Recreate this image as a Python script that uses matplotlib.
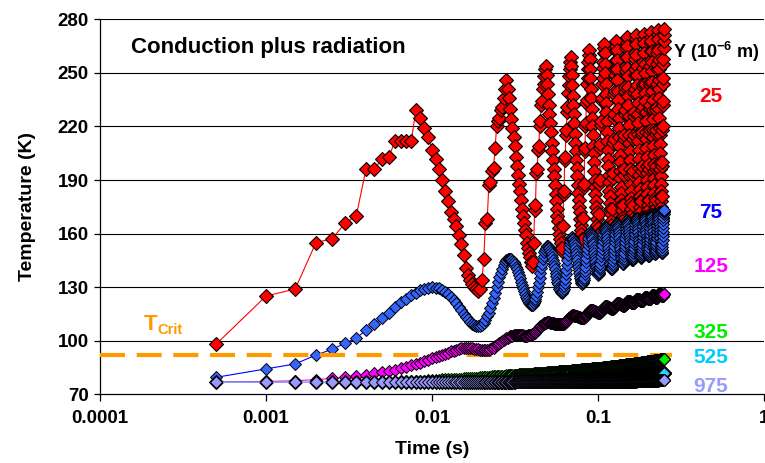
import numpy as np
import matplotlib
matplotlib.use("Agg")
import matplotlib.pyplot as plt
from matplotlib.ticker import FixedLocator, FixedFormatter, NullLocator

# ---------------------------------------------------------------------------
# Temperature histories (K) at several depths Y, sampled every TIME_STEP s
# ---------------------------------------------------------------------------
TIME_STEP = 0.0005

temp_y25 = [
    98, 125, 129, 155, 157, 166, 170, 196, 196, 202, 203, 212, 212, 212, 212, 229,
    225, 219, 214, 207, 202, 196, 190, 184, 178, 172, 168, 164, 159, 154, 148, 141, 137, 134, 132, 130, 129, 128,
    129, 134, 146, 166, 168, 187, 189, 195, 197, 208, 220, 223, 225, 229, 231, 236, 241, 246,
    241, 236, 230, 224, 219, 214, 209, 203, 198, 193, 188, 184, 179, 174, 170, 166, 162, 159, 155, 152, 149, 147, 144, 142,
    144, 155, 173, 176, 194, 196, 207, 209, 220, 223, 232, 234, 241, 244, 248, 252, 254,
    249, 244, 238, 232, 227, 222, 217, 211, 206, 201, 196, 192, 187, 182, 178, 174, 170, 167, 163, 160, 157, 155, 152, 150,
    152, 164, 182, 184, 201, 203, 215, 218, 228, 231, 239, 243, 248, 252, 256, 259,
    254, 249, 243, 237, 232, 227, 222, 216, 211, 206, 201, 197, 192, 187, 183, 179, 175, 172, 168, 165, 162, 160, 157, 155,
    157, 169, 186, 188, 206, 208, 220, 222, 233, 235, 244, 247, 252, 256, 260, 263,
    258, 252, 247, 241, 236, 230, 225, 220, 215, 209, 205, 200, 195, 190, 186, 182, 178, 175, 172, 168, 165, 163, 160, 158,
    160, 171, 188, 190, 208, 210, 221, 223, 234, 236, 244, 247, 253, 256, 261, 264, 266,
    261, 255, 250, 244, 238, 233, 228, 223, 217, 212, 207, 202, 198, 193, 189, 184, 181, 177, 174, 171, 167, 165, 162, 160,
    162, 174, 191, 194, 211, 213, 225, 227, 238, 240, 249, 252, 257, 262, 265, 268,
    263, 257, 252, 246, 240, 235, 230, 225, 219, 214, 209, 204, 200, 195, 191, 186, 183, 179, 176, 173, 169, 167, 164, 162,
    164, 176, 193, 196, 213, 215, 227, 229, 240, 242, 251, 254, 259, 264, 267, 270,
    265, 259, 253, 248, 242, 237, 232, 226, 221, 215, 211, 206, 201, 196, 192, 188, 184, 180, 177, 174, 171, 168, 165, 163,
    165, 176, 193, 195, 213, 215, 226, 228, 239, 241, 249, 252, 258, 261, 266, 269, 271,
    266, 260, 254, 249, 243, 238, 233, 227, 222, 216, 212, 207, 202, 197, 193, 189, 185, 181, 178, 175, 172, 169, 166, 164,
    166, 178, 195, 198, 215, 217, 229, 231, 242, 244, 253, 256, 261, 266, 269, 272,
    267, 261, 255, 250, 244, 239, 234, 228, 223, 217, 213, 208, 203, 198, 194, 190, 186, 182, 179, 176, 173, 170, 167, 165,
    167, 179, 196, 199, 216, 218, 230, 232, 243, 245, 254, 257, 262, 267, 270, 273,
    268, 262, 256, 251, 245, 240, 235, 229, 224, 218, 214, 209, 204, 199, 195, 191, 187, 183, 180, 177, 174, 171, 168, 166,
    168, 179, 196, 198, 216, 218, 229, 231, 242, 244, 252, 255, 261, 264, 269, 272, 274,
    269, 263, 257, 252, 246, 241, 236, 230, 225, 219, 215, 210, 205, 200, 196, 192, 188, 184, 181, 178, 175, 172, 169, 167,
    169, 181, 198, 200, 218, 220, 232, 234, 244, 247, 255, 258, 264, 268, 271, 274.5,
]

temp_y75 = [
    79.5, 84.2, 87.0, 92.0, 95.2, 98.6, 101.4, 106.0, 109.4, 112.6, 115.4, 118.8, 121.5, 123.5, 125.5, 127.0, 128.3, 129.2, 129.8, 130.0,
    129.8, 129.3, 128.5, 127.4, 126.1, 124.5, 122.8, 120.9, 119.0, 117.1, 115.2, 113.5, 111.9, 110.6, 109.5, 108.7, 108.2, 108.0,
    108.2, 108.9, 110.1, 111.6, 113.6, 115.8, 118.4, 121.1, 124.0, 127.0, 130.0, 132.9, 135.6, 138.2, 140.4, 142.4, 143.9, 145.1, 145.8, 146.0,
    145.9, 145.5, 144.8, 143.9, 142.8, 141.5, 140.0, 138.4, 136.7, 134.9, 133.0, 131.2, 129.3, 127.6, 126.0, 124.5, 123.2, 122.1, 121.2, 120.5, 120.1, 120.0,
    120.2, 120.9, 122.0, 123.5, 125.3, 127.5, 129.9, 132.5, 135.1, 137.9, 140.6, 143.1, 145.5, 147.7, 149.5, 151.0, 152.1, 152.8, 153.0,
    152.9, 152.5, 151.8, 150.9, 149.8, 148.5, 147.0, 145.4, 143.7, 141.9, 140.0, 138.2, 136.3, 134.6, 133.0, 131.5, 130.2, 129.1, 128.2, 127.5, 127.1, 127.0,
    127.2, 127.9, 129.1, 130.6, 132.5, 134.8, 137.2, 139.8, 142.5, 145.2, 147.8, 150.3, 152.5, 154.4, 155.9, 157.1, 157.8, 158.0,
    157.9, 157.5, 156.8, 155.9, 154.8, 153.5, 152.0, 150.4, 148.7, 146.9, 145.0, 143.2, 141.3, 139.6, 138.0, 136.5, 135.2, 134.1, 133.2, 132.5, 132.1, 132.0,
    132.2, 132.9, 133.9, 135.4, 137.2, 139.3, 141.5, 144.0, 146.5, 149.0, 151.5, 153.8, 155.8, 157.6, 159.1, 160.1, 160.8, 161.0,
    160.9, 160.5, 159.9, 159.1, 158.1, 156.9, 155.5, 154.0, 152.4, 150.7, 149.0, 147.3, 145.6, 144.0, 142.5, 141.1, 139.9, 138.9, 138.1, 137.5, 137.1, 137.0,
    137.2, 137.7, 138.6, 139.9, 141.4, 143.1, 145.1, 147.2, 149.4, 151.6, 153.8, 155.9, 157.9, 159.6, 161.2, 162.4, 163.3, 163.8, 164.0,
    163.9, 163.5, 162.9, 162.1, 161.1, 159.9, 158.5, 157.0, 155.4, 153.7, 152.0, 150.3, 148.6, 147.0, 145.5, 144.1, 142.9, 141.9, 141.1, 140.5, 140.1, 140.0,
    140.2, 140.8, 141.7, 143.0, 144.6, 146.5, 148.6, 150.7, 153.0, 155.3, 157.5, 159.5, 161.4, 163.0, 164.3, 165.2, 165.8, 166.0,
    165.9, 165.5, 165.0, 164.2, 163.2, 162.0, 160.7, 159.3, 157.7, 156.1, 154.5, 152.9, 151.3, 149.7, 148.3, 147.0, 145.8, 144.8, 144.0, 143.5, 143.1, 143.0,
    143.2, 143.7, 144.6, 145.9, 147.4, 149.1, 151.1, 153.1, 155.3, 157.4, 159.4, 161.4, 163.1, 164.6, 165.9, 166.8, 167.3, 167.5,
    167.4, 167.0, 166.5, 165.7, 164.8, 163.6, 162.3, 160.9, 159.4, 157.9, 156.3, 154.7, 153.1, 151.6, 150.2, 148.9, 147.8, 146.8, 146.0, 145.5, 145.1, 145.0,
    145.2, 145.7, 146.5, 147.5, 148.9, 150.4, 152.2, 154.1, 156.0, 158.0, 160.0, 161.8, 163.6, 165.1, 166.5, 167.6, 168.4, 168.8, 169.0,
    168.9, 168.5, 168.0, 167.2, 166.3, 165.1, 163.8, 162.4, 160.9, 159.4, 157.8, 156.2, 154.6, 153.1, 151.7, 150.4, 149.3, 148.3, 147.5, 147.0, 146.6, 146.5,
    146.7, 147.2, 148.1, 149.3, 150.7, 152.4, 154.2, 156.2, 158.3, 160.3, 162.3, 164.1, 165.8, 167.3, 168.4, 169.3, 169.8, 170.0,
    169.9, 169.5, 169.0, 168.2, 167.3, 166.1, 164.8, 163.4, 161.9, 160.4, 158.8, 157.2, 155.6, 154.1, 152.7, 151.4, 150.3, 149.3, 148.5, 148.0, 147.6, 147.5,
    147.7, 148.2, 149.1, 150.3, 151.7, 153.4, 155.2, 157.2, 159.3, 161.3, 163.3, 165.1, 166.8, 168.3, 169.4, 170.3, 170.8, 171.0,
    170.9, 170.5, 170.0, 169.2, 168.3, 167.1, 165.8, 164.4, 162.9, 161.4, 159.8, 158.2, 156.6, 155.1, 153.7, 152.4, 151.3, 150.3, 149.5, 149.0, 148.6, 148.5,
    148.7, 149.1, 149.9, 151.0, 152.3, 153.8, 155.5, 157.4, 159.3, 161.2, 163.1, 165.0, 166.7, 168.2, 169.5, 170.6, 171.4, 171.8, 172.0,
    171.9, 171.5, 171.0, 170.2, 169.2, 168.0, 166.7, 165.3, 163.7, 162.1, 160.5, 158.9, 157.3, 155.7, 154.3, 153.0, 151.8, 150.8, 150.0, 149.5, 149.1, 149.0,
    149.2, 149.9, 151.0, 152.5, 154.3, 156.4, 158.7, 161.0, 163.3, 165.6, 167.7, 169.5, 171.0, 172.1, 172.8, 173.0,
]

temp_y125 = [
    77.0, 77.2, 77.6, 78.2, 78.9, 79.6, 80.3, 81.0, 81.7, 82.4,
    83.1, 83.8, 84.6, 85.4, 86.2, 87.0, 87.8, 88.6, 89.4, 90.1,
    90.8, 91.5, 92.2, 92.8, 93.4, 94.0, 94.5, 95.0, 95.4, 95.7,
    95.9, 96.0, 96.0, 95.9, 95.7, 95.5, 95.3, 95.1, 94.9, 94.8,
    94.7, 94.7, 94.8, 95.0, 95.3, 95.7, 96.2, 96.8, 97.4, 98.0,
    98.6, 99.2, 99.8, 100.3, 100.8, 101.3, 101.7, 102.1, 102.4, 102.7,
    102.9, 103.1, 103.2, 103.3, 103.3, 103.3, 103.2, 103.2, 103.1, 103.0,
    103.0, 102.9, 102.9, 102.9, 102.9, 103.0, 103.1, 103.2, 103.4, 103.6,
    103.9, 104.2, 104.6, 105.0, 105.5, 106.0, 106.5, 107.0, 107.5, 108.0,
    108.4, 108.8, 109.2, 109.5, 109.8, 110.0, 110.2, 110.3, 110.4, 110.4,
    110.4, 110.3, 110.2, 110.1, 110.0, 109.9, 109.8, 109.7, 109.6, 109.5,
    109.4, 109.4, 109.3, 109.3, 109.3, 109.3, 109.3, 109.3, 109.3, 109.3, 109.3,
    109.3, 109.4, 109.6, 109.8, 110.0, 110.3, 110.6, 111.0, 111.4, 111.8, 112.1, 112.5, 112.9, 113.2, 113.5, 113.7, 113.9, 114.1, 114.2, 114.2,
    114.2, 114.2, 114.1, 114.1, 114.0, 113.9, 113.8, 113.7, 113.6, 113.5, 113.4, 113.3, 113.2, 113.1, 113.0, 112.9, 112.8, 112.8, 112.7, 112.7, 112.7,
    112.7, 112.8, 113.0, 113.1, 113.4, 113.6, 113.9, 114.3, 114.6, 115.0, 115.3, 115.7, 116.0, 116.3, 116.5, 116.8, 117.0, 117.1, 117.2, 117.2,
    117.2, 117.2, 117.1, 117.1, 117.0, 116.9, 116.8, 116.7, 116.6, 116.5, 116.4, 116.3, 116.2, 116.1, 116.0, 115.9, 115.8, 115.8, 115.7, 115.7, 115.7,
    115.7, 115.8, 115.9, 116.1, 116.2, 116.5, 116.7, 117.0, 117.3, 117.6, 117.8, 118.1, 118.4, 118.6, 118.9, 119.1, 119.2, 119.3, 119.4, 119.4,
    119.4, 119.4, 119.3, 119.3, 119.2, 119.1, 119.0, 118.9, 118.8, 118.7, 118.6, 118.5, 118.4, 118.3, 118.2, 118.1, 118.0, 118.0, 117.9, 117.9, 117.9,
    117.9, 118.0, 118.1, 118.2, 118.4, 118.6, 118.8, 119.0, 119.3, 119.5, 119.8, 120.0, 120.2, 120.4, 120.6, 120.8, 120.9, 121.0, 121.1, 121.1,
    121.1, 121.1, 121.0, 121.0, 120.9, 120.8, 120.7, 120.6, 120.5, 120.4, 120.3, 120.2, 120.1, 120.0, 119.9, 119.8, 119.7, 119.7, 119.6, 119.6, 119.6,
    119.6, 119.7, 119.8, 119.9, 120.0, 120.2, 120.4, 120.6, 120.8, 121.0, 121.2, 121.4, 121.6, 121.8, 122.0, 122.1, 122.3, 122.3, 122.4, 122.4,
    122.4, 122.4, 122.3, 122.3, 122.2, 122.1, 122.0, 121.9, 121.8, 121.7, 121.6, 121.5, 121.4, 121.3, 121.2, 121.1, 121.0, 121.0, 120.9, 120.9, 120.9,
    120.9, 121.0, 121.1, 121.2, 121.3, 121.5, 121.6, 121.8, 122.0, 122.3, 122.5, 122.7, 122.9, 123.0, 123.2, 123.3, 123.5, 123.5, 123.6, 123.6,
    123.6, 123.6, 123.5, 123.5, 123.4, 123.3, 123.2, 123.1, 123.0, 122.9, 122.8, 122.7, 122.6, 122.5, 122.4, 122.3, 122.2, 122.2, 122.1, 122.1, 122.1,
    122.1, 122.2, 122.2, 122.3, 122.5, 122.6, 122.8, 123.0, 123.2, 123.4, 123.6, 123.7, 123.9, 124.1, 124.2, 124.4, 124.5, 124.5, 124.6, 124.6,
    124.6, 124.6, 124.5, 124.5, 124.4, 124.3, 124.2, 124.1, 124.0, 123.9, 123.8, 123.7, 123.6, 123.5, 123.4, 123.3, 123.2, 123.2, 123.1, 123.1, 123.1,
    123.1, 123.2, 123.2, 123.3, 123.5, 123.6, 123.8, 124.0, 124.2, 124.4, 124.6, 124.7, 124.9, 125.1, 125.2, 125.4, 125.5, 125.5, 125.6, 125.6,
    125.6, 125.6, 125.5, 125.5, 125.4, 125.3, 125.2, 125.1, 125.0, 124.9, 124.8, 124.7, 124.6, 124.5, 124.4, 124.3, 124.2, 124.2, 124.1, 124.1, 124.1,
    124.1, 124.2, 124.2, 124.3, 124.5, 124.6, 124.8, 124.9, 125.1, 125.3, 125.5, 125.7, 125.8, 126.0, 126.2, 126.3, 126.4, 126.4, 126.5, 126.5,
    126.5, 126.5, 126.4, 126.4, 126.3, 126.2, 126.1, 126.0, 125.9, 125.8, 125.7, 125.6, 125.5, 125.4, 125.3, 125.2, 125.1, 125.1, 125.0, 125.0, 125.0,
    125.0, 125.1, 125.2, 125.4, 125.5, 125.7, 125.9, 126.0, 126.1, 126.2,
]

temp_y325 = [
    76.7, 76.7, 76.7, 76.7, 76.7, 76.7, 76.7, 76.8, 76.8, 76.9, 77.0, 77.1, 77.2, 77.3, 77.4, 77.5, 77.6, 77.7, 77.9, 78.0,
    78.1, 78.2, 78.3, 78.3, 78.4, 78.5, 78.6, 78.6, 78.7, 78.8, 78.9, 79.0, 79.0, 79.1, 79.2, 79.3, 79.4, 79.4, 79.5, 79.6,
    79.7, 79.7, 79.8, 79.8, 79.9, 80.0, 80.0, 80.1, 80.1, 80.2, 80.3, 80.3, 80.4, 80.4, 80.5, 80.6, 80.6, 80.7, 80.7, 80.8,
    80.8, 80.9, 80.9, 81.0, 81.0, 81.0, 81.1, 81.1, 81.2, 81.2, 81.2, 81.3, 81.3, 81.4, 81.4, 81.4, 81.5, 81.5, 81.6, 81.6,
    81.6, 81.7, 81.7, 81.8, 81.8, 81.8, 81.9, 81.9, 81.9, 82.0, 82.0, 82.0, 82.1, 82.1, 82.1, 82.2, 82.2, 82.2, 82.3, 82.3,
    82.3, 82.4, 82.4, 82.4, 82.5, 82.5, 82.5, 82.5, 82.6, 82.6, 82.6, 82.7, 82.7, 82.7, 82.7, 82.8, 82.8, 82.8, 82.9, 82.9,
    82.9, 82.9, 83.0, 83.0, 83.0, 83.0, 83.1, 83.1, 83.1, 83.1, 83.2, 83.2, 83.2, 83.2, 83.3, 83.3, 83.3, 83.3, 83.4, 83.4,
    83.4, 83.4, 83.5, 83.5, 83.5, 83.5, 83.6, 83.6, 83.6, 83.6, 83.7, 83.7, 83.7, 83.7, 83.8, 83.8, 83.8, 83.8, 83.9, 83.9,
    83.9, 83.9, 84.0, 84.0, 84.0, 84.0, 84.1, 84.1, 84.1, 84.1, 84.2, 84.2, 84.2, 84.2, 84.3, 84.3, 84.3, 84.3, 84.4, 84.4,
    84.4, 84.4, 84.4, 84.5, 84.5, 84.5, 84.5, 84.5, 84.6, 84.6, 84.6, 84.6, 84.6, 84.7, 84.7, 84.7, 84.7, 84.7, 84.8, 84.8,
    84.8, 84.8, 84.8, 84.9, 84.9, 84.9, 84.9, 84.9, 85.0, 85.0, 85.0, 85.0, 85.0, 85.1, 85.1, 85.1, 85.1, 85.1, 85.2, 85.2,
    85.2, 85.2, 85.2, 85.3, 85.3, 85.3, 85.3, 85.3, 85.4, 85.4, 85.4, 85.4, 85.4, 85.5, 85.5, 85.5, 85.5, 85.5, 85.6, 85.6,
    85.6, 85.6, 85.6, 85.7, 85.7, 85.7, 85.7, 85.7, 85.8, 85.8, 85.8, 85.8, 85.8, 85.9, 85.9, 85.9, 85.9, 85.9, 86.0, 86.0,
    86.0, 86.0, 86.0, 86.1, 86.1, 86.1, 86.1, 86.1, 86.2, 86.2, 86.2, 86.2, 86.2, 86.3, 86.3, 86.3, 86.3, 86.3, 86.4, 86.4,
    86.4, 86.4, 86.4, 86.5, 86.5, 86.5, 86.5, 86.5, 86.6, 86.6, 86.6, 86.6, 86.6, 86.7, 86.7, 86.7, 86.7, 86.7, 86.8, 86.8,
    86.8, 86.8, 86.8, 86.8, 86.9, 86.9, 86.9, 86.9, 86.9, 86.9, 87.0, 87.0, 87.0, 87.0, 87.0, 87.0, 87.1, 87.1, 87.1, 87.1,
    87.1, 87.1, 87.1, 87.1, 87.2, 87.2, 87.2, 87.2, 87.2, 87.2, 87.3, 87.3, 87.3, 87.3, 87.3, 87.3, 87.4, 87.4, 87.4, 87.4,
    87.4, 87.4, 87.4, 87.5, 87.5, 87.5, 87.5, 87.5, 87.6, 87.6, 87.6, 87.6, 87.6, 87.7, 87.7, 87.7, 87.7, 87.7, 87.8, 87.8,
    87.8, 87.8, 87.8, 87.8, 87.9, 87.9, 87.9, 87.9, 87.9, 87.9, 88.0, 88.0, 88.0, 88.0, 88.0, 88.0, 88.1, 88.1, 88.1, 88.1,
    88.1, 88.1, 88.1, 88.1, 88.2, 88.2, 88.2, 88.2, 88.2, 88.2, 88.3, 88.3, 88.3, 88.3, 88.3, 88.3, 88.4, 88.4, 88.4, 88.4,
    88.4, 88.4, 88.4, 88.4, 88.5, 88.5, 88.5, 88.5, 88.5, 88.5, 88.6, 88.6, 88.6, 88.6, 88.6, 88.6, 88.7, 88.7, 88.7, 88.7,
    88.7, 88.7, 88.7, 88.7, 88.8, 88.8, 88.8, 88.8, 88.8, 88.8, 88.9, 88.9, 88.9, 88.9, 88.9, 88.9, 89.0, 89.0, 89.0, 89.0,
    89.0, 89.0, 89.0, 89.0, 89.0, 89.1, 89.1, 89.1, 89.1, 89.1, 89.1, 89.1, 89.1, 89.2, 89.2, 89.2, 89.2, 89.2, 89.2, 89.2,
    89.2, 89.2, 89.3, 89.3, 89.3, 89.3, 89.3, 89.3, 89.4, 89.4, 89.4, 89.4, 89.4, 89.4, 89.4, 89.5, 89.5, 89.5, 89.5, 89.5,
    89.5, 89.5, 89.6, 89.6, 89.6, 89.6, 89.6, 89.6, 89.7, 89.7, 89.7, 89.7, 89.7, 89.7, 89.7, 89.8, 89.8, 89.8, 89.8, 89.8,
]

temp_y525 = [
    76.7, 76.7, 76.7, 76.7, 76.7, 76.7, 76.7, 76.7, 76.7, 76.7, 76.7, 76.7, 76.7, 76.7, 76.7, 76.7, 76.7, 76.7, 76.7, 76.7,
    76.7, 76.7, 76.7, 76.7, 76.7, 76.7, 76.7, 76.7, 76.7, 76.7, 76.7, 76.7, 76.7, 76.7, 76.8, 76.8, 76.8, 76.8, 76.8, 76.8,
    76.8, 76.8, 76.8, 76.9, 76.9, 76.9, 76.9, 76.9, 76.9, 77.0, 77.0, 77.0, 77.0, 77.0, 77.0, 77.0, 77.1, 77.1, 77.1, 77.1,
    77.1, 77.1, 77.1, 77.2, 77.2, 77.2, 77.2, 77.2, 77.2, 77.3, 77.3, 77.3, 77.3, 77.3, 77.3, 77.3, 77.4, 77.4, 77.4, 77.4,
    77.4, 77.4, 77.4, 77.5, 77.5, 77.5, 77.5, 77.5, 77.5, 77.6, 77.6, 77.6, 77.6, 77.6, 77.6, 77.6, 77.7, 77.7, 77.7, 77.7,
    77.7, 77.7, 77.7, 77.8, 77.8, 77.8, 77.8, 77.8, 77.8, 77.9, 77.9, 77.9, 77.9, 77.9, 77.9, 77.9, 78.0, 78.0, 78.0, 78.0,
    78.0, 78.0, 78.0, 78.1, 78.1, 78.1, 78.1, 78.1, 78.1, 78.2, 78.2, 78.2, 78.2, 78.2, 78.2, 78.2, 78.3, 78.3, 78.3, 78.3,
    78.3, 78.3, 78.3, 78.3, 78.3, 78.4, 78.4, 78.4, 78.4, 78.4, 78.4, 78.4, 78.4, 78.4, 78.5, 78.5, 78.5, 78.5, 78.5, 78.5,
    78.5, 78.5, 78.5, 78.5, 78.5, 78.6, 78.6, 78.6, 78.6, 78.6, 78.6, 78.6, 78.6, 78.6, 78.7, 78.7, 78.7, 78.7, 78.7, 78.7,
    78.7, 78.7, 78.7, 78.7, 78.7, 78.8, 78.8, 78.8, 78.8, 78.8, 78.8, 78.8, 78.8, 78.8, 78.9, 78.9, 78.9, 78.9, 78.9, 78.9,
    78.9, 78.9, 78.9, 78.9, 78.9, 79.0, 79.0, 79.0, 79.0, 79.0, 79.0, 79.0, 79.0, 79.0, 79.1, 79.1, 79.1, 79.1, 79.1, 79.1,
    79.1, 79.1, 79.1, 79.1, 79.1, 79.2, 79.2, 79.2, 79.2, 79.2, 79.2, 79.2, 79.2, 79.2, 79.3, 79.3, 79.3, 79.3, 79.3, 79.3,
    79.3, 79.3, 79.3, 79.3, 79.3, 79.4, 79.4, 79.4, 79.4, 79.4, 79.4, 79.4, 79.4, 79.4, 79.5, 79.5, 79.5, 79.5, 79.5, 79.5,
    79.5, 79.5, 79.5, 79.5, 79.5, 79.6, 79.6, 79.6, 79.6, 79.6, 79.6, 79.6, 79.6, 79.6, 79.7, 79.7, 79.7, 79.7, 79.7, 79.7,
    79.7, 79.7, 79.7, 79.7, 79.7, 79.8, 79.8, 79.8, 79.8, 79.8, 79.8, 79.8, 79.8, 79.8, 79.9, 79.9, 79.9, 79.9, 79.9, 79.9,
    79.9, 79.9, 79.9, 79.9, 79.9, 80.0, 80.0, 80.0, 80.0, 80.0, 80.0, 80.0, 80.0, 80.0, 80.1, 80.1, 80.1, 80.1, 80.1, 80.1,
    80.1, 80.1, 80.1, 80.1, 80.1, 80.2, 80.2, 80.2, 80.2, 80.2, 80.2, 80.2, 80.2, 80.2, 80.3, 80.3, 80.3, 80.3, 80.3, 80.3,
    80.3, 80.3, 80.3, 80.3, 80.3, 80.4, 80.4, 80.4, 80.4, 80.4, 80.4, 80.4, 80.4, 80.4, 80.5, 80.5, 80.5, 80.5, 80.5, 80.5,
    80.5, 80.5, 80.5, 80.5, 80.5, 80.6, 80.6, 80.6, 80.6, 80.6, 80.6, 80.6, 80.6, 80.6, 80.7, 80.7, 80.7, 80.7, 80.7, 80.7,
    80.7, 80.7, 80.7, 80.7, 80.7, 80.8, 80.8, 80.8, 80.8, 80.8, 80.8, 80.8, 80.8, 80.8, 80.9, 80.9, 80.9, 80.9, 80.9, 80.9,
    80.9, 80.9, 80.9, 80.9, 80.9, 81.0, 81.0, 81.0, 81.0, 81.0, 81.0, 81.0, 81.0, 81.0, 81.1, 81.1, 81.1, 81.1, 81.1, 81.1,
    81.1, 81.1, 81.1, 81.1, 81.1, 81.2, 81.2, 81.2, 81.2, 81.2, 81.2, 81.2, 81.2, 81.2, 81.3, 81.3, 81.3, 81.3, 81.3, 81.3,
    81.3, 81.3, 81.3, 81.3, 81.3, 81.4, 81.4, 81.4, 81.4, 81.4, 81.4, 81.4, 81.4, 81.4, 81.5, 81.5, 81.5, 81.5, 81.5, 81.5,
    81.5, 81.5, 81.5, 81.5, 81.5, 81.5, 81.5, 81.5, 81.6, 81.6, 81.6, 81.6, 81.6, 81.6, 81.6, 81.6, 81.6, 81.6, 81.6, 81.6,
    81.6, 81.6, 81.6, 81.6, 81.6, 81.7, 81.7, 81.7, 81.7, 81.7, 81.7, 81.7, 81.7, 81.7, 81.8, 81.8, 81.8, 81.8, 81.8, 81.8,
]

temp_y975 = [
    76.7, 76.7, 76.7, 76.7, 76.7, 76.7, 76.7, 76.7, 76.7, 76.7, 76.7, 76.7, 76.7, 76.7, 76.7, 76.7, 76.7, 76.7, 76.7, 76.7,
    76.7, 76.7, 76.7, 76.7, 76.7, 76.7, 76.7, 76.7, 76.7, 76.7, 76.7, 76.7, 76.7, 76.7, 76.7, 76.7, 76.7, 76.7, 76.7, 76.7,
    76.7, 76.7, 76.7, 76.7, 76.7, 76.7, 76.7, 76.7, 76.7, 76.7, 76.7, 76.7, 76.7, 76.7, 76.7, 76.7, 76.7, 76.7, 76.7, 76.7,
    76.7, 76.7, 76.7, 76.7, 76.7, 76.7, 76.7, 76.7, 76.7, 76.7, 76.7, 76.7, 76.7, 76.7, 76.7, 76.7, 76.7, 76.7, 76.7, 76.7,
    76.7, 76.7, 76.7, 76.7, 76.7, 76.7, 76.7, 76.7, 76.7, 76.7, 76.7, 76.7, 76.7, 76.7, 76.7, 76.7, 76.7, 76.7, 76.7, 76.7,
    76.7, 76.7, 76.7, 76.7, 76.7, 76.7, 76.7, 76.7, 76.7, 76.7, 76.7, 76.7, 76.7, 76.7, 76.7, 76.7, 76.7, 76.7, 76.7, 76.7,
    76.7, 76.7, 76.7, 76.7, 76.7, 76.7, 76.7, 76.7, 76.7, 76.7, 76.7, 76.7, 76.7, 76.7, 76.7, 76.7, 76.7, 76.7, 76.7, 76.7,
    76.7, 76.7, 76.7, 76.7, 76.7, 76.7, 76.7, 76.7, 76.7, 76.7, 76.7, 76.7, 76.7, 76.7, 76.7, 76.7, 76.7, 76.7, 76.7, 76.7,
    76.7, 76.7, 76.7, 76.7, 76.7, 76.7, 76.7, 76.7, 76.7, 76.7, 76.7, 76.7, 76.7, 76.7, 76.7, 76.7, 76.7, 76.7, 76.7, 76.7,
    76.7, 76.7, 76.7, 76.7, 76.7, 76.7, 76.7, 76.7, 76.7, 76.7, 76.7, 76.7, 76.7, 76.7, 76.7, 76.7, 76.7, 76.7, 76.7, 76.7,
    76.7, 76.7, 76.7, 76.7, 76.7, 76.7, 76.7, 76.7, 76.7, 76.7, 76.7, 76.7, 76.7, 76.7, 76.7, 76.7, 76.7, 76.7, 76.7, 76.7,
    76.7, 76.7, 76.7, 76.7, 76.7, 76.7, 76.7, 76.7, 76.7, 76.7, 76.7, 76.7, 76.7, 76.7, 76.7, 76.7, 76.7, 76.7, 76.7, 76.7,
    76.8, 76.8, 76.8, 76.8, 76.8, 76.8, 76.8, 76.8, 76.8, 76.8, 76.8, 76.8, 76.8, 76.8, 76.8, 76.8, 76.8, 76.8, 76.8, 76.8,
    76.8, 76.8, 76.8, 76.8, 76.8, 76.8, 76.8, 76.8, 76.8, 76.8, 76.8, 76.8, 76.8, 76.8, 76.8, 76.8, 76.8, 76.8, 76.8, 76.8,
    76.9, 76.9, 76.9, 76.9, 76.9, 76.9, 76.9, 76.9, 76.9, 76.9, 76.9, 76.9, 76.9, 76.9, 76.9, 76.9, 76.9, 76.9, 76.9, 76.9,
    77.0, 77.0, 77.0, 77.0, 77.0, 77.0, 77.0, 77.0, 77.0, 77.0, 77.0, 77.0, 77.0, 77.0, 77.0, 77.0, 77.0, 77.0, 77.0, 77.0,
    77.1, 77.1, 77.1, 77.1, 77.1, 77.1, 77.1, 77.1, 77.1, 77.1, 77.1, 77.1, 77.1, 77.1, 77.1, 77.1, 77.1, 77.1, 77.1, 77.1,
    77.2, 77.2, 77.2, 77.2, 77.2, 77.2, 77.2, 77.2, 77.2, 77.2, 77.2, 77.2, 77.2, 77.2, 77.2, 77.2, 77.2, 77.2, 77.2, 77.2,
    77.3, 77.3, 77.3, 77.3, 77.3, 77.3, 77.3, 77.3, 77.3, 77.3, 77.4, 77.4, 77.4, 77.4, 77.4, 77.4, 77.4, 77.4, 77.4, 77.4,
    77.4, 77.4, 77.4, 77.4, 77.4, 77.4, 77.4, 77.4, 77.4, 77.4, 77.5, 77.5, 77.5, 77.5, 77.5, 77.5, 77.5, 77.5, 77.5, 77.5,
    77.5, 77.5, 77.5, 77.5, 77.5, 77.5, 77.5, 77.5, 77.5, 77.5, 77.6, 77.6, 77.6, 77.6, 77.6, 77.6, 77.6, 77.6, 77.6, 77.6,
    77.6, 77.6, 77.6, 77.6, 77.6, 77.6, 77.6, 77.6, 77.6, 77.6, 77.7, 77.7, 77.7, 77.7, 77.7, 77.7, 77.7, 77.7, 77.7, 77.7,
    77.7, 77.7, 77.7, 77.7, 77.7, 77.7, 77.7, 77.7, 77.7, 77.7, 77.7, 77.7, 77.7, 77.7, 77.7, 77.7, 77.7, 77.7, 77.7, 77.7,
    77.8, 77.8, 77.8, 77.8, 77.8, 77.8, 77.8, 77.8, 77.8, 77.8, 77.8, 77.8, 77.8, 77.8, 77.8, 77.8, 77.8, 77.8, 77.8, 77.8,
    77.9, 77.9, 77.9, 77.9, 77.9, 77.9, 77.9, 77.9, 77.9, 77.9, 78.0, 78.0, 78.0, 78.0, 78.0, 78.0, 78.0, 78.0, 78.0, 78.0,
]

depth_labels = ["25", "75", "125", "325", "525", "975"]
T_CRIT = 92.0
x_ticks = [0.0001, 0.001, 0.01, 0.1, 1]
x_tick_labels = ["0.0001", "0.001", "0.01", "0.1", "1"]
y_ticks = [70, 100, 130, 160, 190, 220, 250, 280]

# ---------------------------------------------------------------------------
plt.rcParams["font.family"] = ["Liberation Sans", "DejaVu Sans"]
plt.rcParams["font.weight"] = "bold"
plt.rcParams["mathtext.fontset"] = "custom"
plt.rcParams["mathtext.rm"] = "Liberation Sans:bold"
plt.rcParams["mathtext.it"] = "Liberation Sans:bold"
plt.rcParams["mathtext.bf"] = "Liberation Sans:bold"

W, H = 765, 463
fig = plt.figure(figsize=(W / 100, H / 100), dpi=100)
fig.patch.set_facecolor("white")

AX_L, AX_R, AX_T, AX_B = 100, 764, 19.3, 394.3
ax = fig.add_axes([AX_L / W, 1 - AX_B / H, (AX_R - AX_L) / W, (AX_B - AX_T) / H])


def fx(px):
    return px / W


def fy(py):
    return 1 - py / H


series = [
    (temp_y25, dict(color="#ff0000", mfc="#ff0000", mec="black", ms=6.9, mew=0.8)),
    (temp_y75, dict(color="#0000ff", mfc="#3366ff", mec="black", ms=6.0, mew=0.7)),
    (temp_y125, dict(color="#ff00ff", mfc="#ff00ff", mec="black", ms=6.2, mew=0.7)),
    (temp_y325, dict(color="#00cc00", mfc="#00ee00", mec="black", ms=6.2, mew=0.7)),
    (temp_y525, dict(color="#33ccff", mfc="#2aa9b8", mec="black", ms=7.6, mew=0.8)),
    (temp_y975, dict(color="#9999ff", mfc="#9999ff", mec="black", ms=5.9, mew=0.7)),
]

for k, (temps, st) in enumerate(series):
    t = TIME_STEP * np.arange(1, len(temps) + 1)
    ax.plot(t, temps, lw=0.8, marker="D", zorder=3 + k, clip_on=False, **st)

# final cyan point keeps its light face colour, as at the right-hand end
ax.plot([TIME_STEP * len(temp_y525)], [temp_y525[-1]], marker="D", ms=6.2,
        mfc="#33ccff", mec="black", mew=0.8, ls="none", zorder=7.5, clip_on=False)
ax.plot([TIME_STEP * len(temp_y975)], [temp_y975[-1]], marker="D", ms=5.9,
        mfc="#9999ff", mec="black", mew=0.7, ls="none", zorder=8.5, clip_on=False)

# critical temperature
ax.plot([1e-4, 0.28], [T_CRIT, T_CRIT], color="#ff9900", lw=3.0,
        dashes=(6.0, 2.8), solid_capstyle="butt", zorder=4.5, clip_on=False)

ax.set_xscale("log")
ax.set_xlim(1e-4, 1)
ax.set_ylim(70, 280)
ax.xaxis.set_major_locator(FixedLocator(x_ticks))
ax.xaxis.set_major_formatter(FixedFormatter(x_tick_labels))
ax.xaxis.set_minor_locator(NullLocator())
ax.yaxis.set_major_locator(FixedLocator(y_ticks))
ax.yaxis.set_minor_locator(NullLocator())

for y in y_ticks[1:]:
    ax.axhline(y, color="black", lw=0.8, zorder=1)

for s in ("top", "right"):
    ax.spines[s].set_visible(False)
for s in ("left", "bottom"):
    ax.spines[s].set_linewidth(0.9)
    ax.spines[s].set_zorder(2)

ax.tick_params(axis="x", direction="out", length=5, width=0.9, labelsize=13.5, pad=6)
ax.tick_params(axis="y", direction="out", length=4, width=0.9, labelsize=13.5, pad=4)
for lab in ax.get_xticklabels() + ax.get_yticklabels():
    lab.set_fontweight("bold")

ax.set_xlabel("Time (s)", fontsize=14, fontweight="bold")
ax.set_ylabel("Temperature (K)", fontsize=14, fontweight="bold")
ax.xaxis.set_label_coords(0.5, -0.125)
ax.yaxis.set_label_coords(-0.096, 0.5)

fig.text(fx(130.7), fy(53.3), "Conduction plus radiation", fontsize=16,
         fontweight="bold", ha="left", va="baseline")
fig.text(fx(673), fy(58.3), "Y (10$^{-6}$ m)", fontsize=13,
         fontweight="bold", ha="left", va="baseline")

label_colors = ["#ff0000", "#0000ff", "#ff00ff", "#00ee00", "#00ccff", "#9999ff"]
label_baselines = [102, 218, 271.7, 338, 363, 391.5]
for txt, col, yb in zip(depth_labels, label_colors, label_baselines):
    fig.text(fx(711), fy(yb), txt, fontsize=15, fontweight="bold",
             color=col, ha="center", va="baseline")

fig.text(fx(144), fy(330), "T", fontsize=16, fontweight="bold",
         color="#ff9900", ha="left", va="baseline")
fig.text(fx(157.5), fy(333.5), "Crit", fontsize=10.5, fontweight="bold",
         color="#ff9900", ha="left", va="baseline")

fig.savefig("out.png", dpi=100, facecolor="white")
